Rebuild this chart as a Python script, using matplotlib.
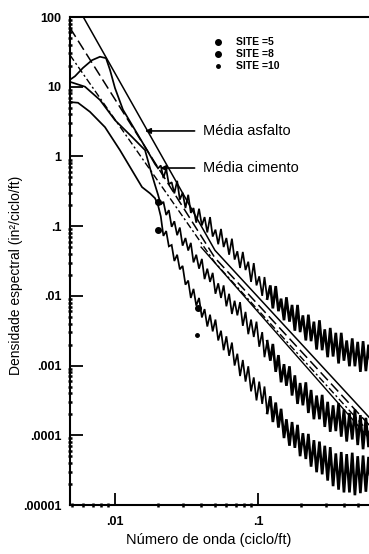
import numpy as np
import matplotlib
matplotlib.use("Agg")
import matplotlib.pyplot as plt
from matplotlib.ticker import FixedLocator, NullFormatter

plt.rcParams['font.family'] = ['Liberation Sans', 'DejaVu Sans']

# ---------------- data ----------------
# shared wavenumber grid of the noisy high-frequency part (cycle/ft)
noise_freq = [0.0200, 0.0209, 0.0218, 0.0228, 0.0238, 0.0249, 0.0260, 0.0272, 0.0284, 0.0297,
              0.0311, 0.0325, 0.0339, 0.0354, 0.0370, 0.0387, 0.0405, 0.0423, 0.0442, 0.0462,
              0.0482, 0.0504, 0.0527, 0.0551, 0.0575, 0.0601, 0.0628, 0.0657, 0.0686, 0.0717,
              0.0749, 0.0783, 0.0818, 0.0855, 0.0894, 0.0934, 0.0976, 0.102, 0.107, 0.111,
              0.116, 0.122, 0.127, 0.133, 0.139, 0.145, 0.152, 0.158, 0.166, 0.173,
              0.181, 0.189, 0.197, 0.206, 0.216, 0.225, 0.235, 0.246, 0.257, 0.269,
              0.281, 0.293, 0.307, 0.320, 0.335, 0.350, 0.366, 0.382, 0.399, 0.417,
              0.436, 0.456, 0.476, 0.498, 0.520, 0.543, 0.568, 0.593, 0.620]

# site 5 (upper curve): low-frequency part + noisy part, log10 of PSD
site5_low_freq = [0.00484, 0.00525, 0.00597, 0.00690, 0.00785, 0.00865, 0.00923, 0.0100,
                  0.01137, 0.01380, 0.01675, 0.01905]
site5_low_log10 = [1.10, 1.15, 1.27, 1.38, 1.43, 1.41, 1.24, 0.98, 0.67, 0.38, 0.09, -0.11]
site5_noise_log10 = [-0.17, -0.13, -0.31, -0.18, -0.40, -0.37, -0.53, -0.35, -0.62, -0.52,
                     -0.74, -0.55, -0.81, -0.74, -0.95, -0.75, -0.99, -0.87, -1.09, -0.87,
                     -1.15, -1.05, -1.26, -1.04, -1.30, -1.17, -1.41, -1.18, -1.48, -1.36,
                     -1.60, -1.37, -1.63, -1.51, -1.80, -1.53, -1.85, -1.72, -2.00, -1.73,
                     -2.04, -1.85, -2.18, -1.86, -2.22, -2.04, -2.35, -2.02, -2.37, -2.13,
                     -2.50, -2.13, -2.52, -2.28, -2.64, -2.27, -2.65, -2.37, -2.77, -2.35,
                     -2.78, -2.48, -2.88, -2.46, -2.87, -2.53, -2.97, -2.53, -2.93, -2.64,
                     -3.01, -2.61, -3.01, -2.66, -3.09, -2.65, -3.08, -2.70, -3.08]

# site 8 (middle curve)
site8_low_freq = [0.00484, 0.00617, 0.00785, 0.0100, 0.01315, 0.01622, 0.01758, 0.01905]
site8_low_log10 = [1.07, 1.00, 0.81, 0.52, 0.28, 0.09, -0.17, -0.41]
site8_noise_log10 = [-0.55, -0.69, -0.65, -0.84, -0.77, -1.01, -0.93, -1.13, -1.02, -1.28,
                     -1.17, -1.35, -1.24, -1.52, -1.41, -1.61, -1.47, -1.76, -1.61, -1.80,
                     -1.67, -1.97, -1.82, -2.03, -1.85, -2.15, -1.97, -2.26, -2.07, -2.28,
                     -2.09, -2.43, -2.23, -2.55, -2.34, -2.59, -2.37, -2.73, -2.52, -2.88,
                     -2.65, -2.93, -2.69, -3.09, -2.85, -3.24, -2.98, -3.29, -3.01, -3.43,
                     -3.14, -3.55, -3.25, -3.57, -3.24, -3.68, -3.35, -3.77, -3.43, -3.77,
                     -3.42, -3.88, -3.52, -3.95, -3.57, -3.94, -3.54, -4.02, -3.63, -4.09,
                     -3.68, -4.06, -3.63, -4.14, -3.71, -4.20, -3.75, -4.17, -3.74]

# site 10 (lower curve)
site10_low_freq = [0.00484, 0.00551, 0.00668, 0.00851, 0.01083, 0.01545, 0.01758, 0.01905]
site10_low_log10 = [0.78, 0.77, 0.64, 0.42, 0.09, -0.44, -0.53, -0.60]
site10_noise_log10 = [-0.70, -0.86, -1.14, -1.07, -1.29, -1.27, -1.50, -1.41, -1.62, -1.57,
                      -1.84, -1.78, -2.03, -1.90, -2.14, -2.03, -2.31, -2.19, -2.44, -2.27,
                      -2.51, -2.34, -2.64, -2.50, -2.78, -2.58, -2.86, -2.67, -3.00, -2.83,
                      -3.15, -2.92, -3.23, -3.01, -3.37, -3.17, -3.50, -3.23, -3.55, -3.30,
                      -3.68, -3.44, -3.81, -3.53, -3.89, -3.62, -4.04, -3.77, -4.15, -3.81,
                      -4.18, -3.85, -4.30, -3.97, -4.34, -3.98, -4.45, -4.07, -4.53, -4.09,
                      -4.56, -4.15, -4.65, -4.17, -4.73, -4.26, -4.78, -4.24, -4.82, -4.27,
                      -4.82, -4.25, -4.86, -4.30, -4.83, -4.29, -4.81, -4.31, -4.79]

# site identification dots
site_dot_freq = [0.0200, 0.0200, 0.0381, 0.0374]
site_dot_psd = [0.222, 0.088, 0.00668, 0.00274]
site_dot_size = [4.0, 4.0, 4.0, 2.5]

# mean (two-slope) lines
asfalto_freq = [0.006, 0.05, 0.6]
asfalto_psd = [100.0, 0.045, 1.8e-4]
cimento_freq = [0.00484, 0.05, 0.6]
cimento_psd = [70.0, 0.035, 1.4e-4]
line3_freq = [0.00484, 0.05, 0.6]
line3_psd = [28.5, 0.030, 1.1e-4]
line4_freq = [0.04, 0.6]
line4_psd = [0.05, 9.0e-5]

legend_labels = ["SITE =5", "SITE =8", "SITE =10"]
y_ticks = [1e2, 1e1, 1e0, 1e-1, 1e-2, 1e-3, 1e-4, 1e-5]
y_tick_labels = ["100", "10", "1", ".1", ".01", ".001", ".0001", ".00001"]
x_ticks = [0.01, 0.1]
x_tick_labels = [".01", ".1"]

# ---------------- figure ----------------
fig = plt.figure(figsize=(3.69, 5.54), dpi=100)
ax = fig.add_axes([70 / 369, 49 / 554, 299 / 369, 488 / 554])
ax.set_xscale('log')
ax.set_yscale('log')

split = 40  # from here on the spectra form dense black bands
for lf, ll, nl in [(site5_low_freq, site5_low_log10, site5_noise_log10),
                   (site8_low_freq, site8_low_log10, site8_noise_log10),
                   (site10_low_freq, site10_low_log10, site10_noise_log10)]:
    f = np.array(lf + noise_freq)
    p = np.power(10.0, np.array(ll + nl))
    k = len(lf) + split
    ax.plot(f[:k + 1], p[:k + 1], color='black', lw=1.25, solid_joinstyle='miter')
    ax.plot(f[k:], p[k:], color='black', lw=1.9, solid_joinstyle='miter')

ax.plot(asfalto_freq, asfalto_psd, color='black', lw=1.1)
ax.plot(cimento_freq, cimento_psd, color='black', lw=1.1, dashes=(7, 3))
ax.plot(line3_freq, line3_psd, color='black', lw=1.0, dashes=(5, 2, 1.5, 2))
ax.plot(line4_freq, line4_psd, color='black', lw=1.0)

for fx, py, ms in zip(site_dot_freq, site_dot_psd, site_dot_size):
    ax.plot(fx, py, 'o', color='black', ms=ms)

# legend (symbols + text)
for yy, lab, ms in zip([0.948, 0.924, 0.899], legend_labels, [4.0, 4.0, 2.5]):
    ax.plot(0.495, yy, 'o', color='black', ms=ms, transform=ax.transAxes, clip_on=False)
    ax.text(0.555, yy, lab, transform=ax.transAxes, va='center', ha='left',
            fontsize=7.5, fontweight='bold', family=['Liberation Sans Narrow', 'Liberation Sans'])

# annotations
arrow = dict(arrowstyle='-|>', color='black', lw=1.2, mutation_scale=8, shrinkA=4, shrinkB=0)
ax.annotate('Média asfalto', xy=(0.0162, 2.32), xytext=(0.0412, 2.32), va='center',
            ha='left', fontsize=10.5, arrowprops=arrow)
ax.annotate('Média cimento', xy=(0.0207, 0.682), xytext=(0.0412, 0.682), va='center',
            ha='left', fontsize=10.5, arrowprops=arrow)

# axes limits, ticks
ax.set_xlim(0.004845, 0.5973)
ax.set_ylim(1e-5, 100)

ax.xaxis.set_major_locator(FixedLocator(x_ticks))
ax.set_xticklabels(x_tick_labels)
x_minor = [m * d for d in [0.001, 0.01, 0.1] for m in range(2, 10)]
ax.xaxis.set_minor_locator(FixedLocator(x_minor))
ax.xaxis.set_minor_formatter(NullFormatter())

ax.yaxis.set_major_locator(FixedLocator(y_ticks))
ax.set_yticklabels(y_tick_labels)
y_minor = [m * 10.0 ** e for e in range(-5, 2) for m in range(2, 10)]
ax.yaxis.set_minor_locator(FixedLocator(y_minor))
ax.yaxis.set_minor_formatter(NullFormatter())

ax.tick_params(axis='both', which='major', direction='in', length=9, width=1.3,
               labelsize=9, top=False, right=False)
ax.tick_params(axis='both', which='minor', direction='inout', length=3.5, width=1.8,
               top=False, right=False)
ax.tick_params(axis='x', which='major', pad=8)
ax.tick_params(axis='y', which='major', pad=6)
for lab in ax.get_xticklabels() + ax.get_yticklabels():
    lab.set_fontweight('bold')

for s in ['top', 'left', 'bottom']:
    ax.spines[s].set_linewidth(1.5)
ax.spines['right'].set_visible(False)

ax.set_xlabel('Número de onda (ciclo/ft)', fontsize=10.5)
ax.xaxis.set_label_coords(0.465, -0.057)
ax.set_ylabel('Densidade espectral (in²/ciclo/ft)', fontsize=10)
ax.yaxis.set_label_coords(-0.157, 0.471)

fig.savefig('out.png', dpi=100)
